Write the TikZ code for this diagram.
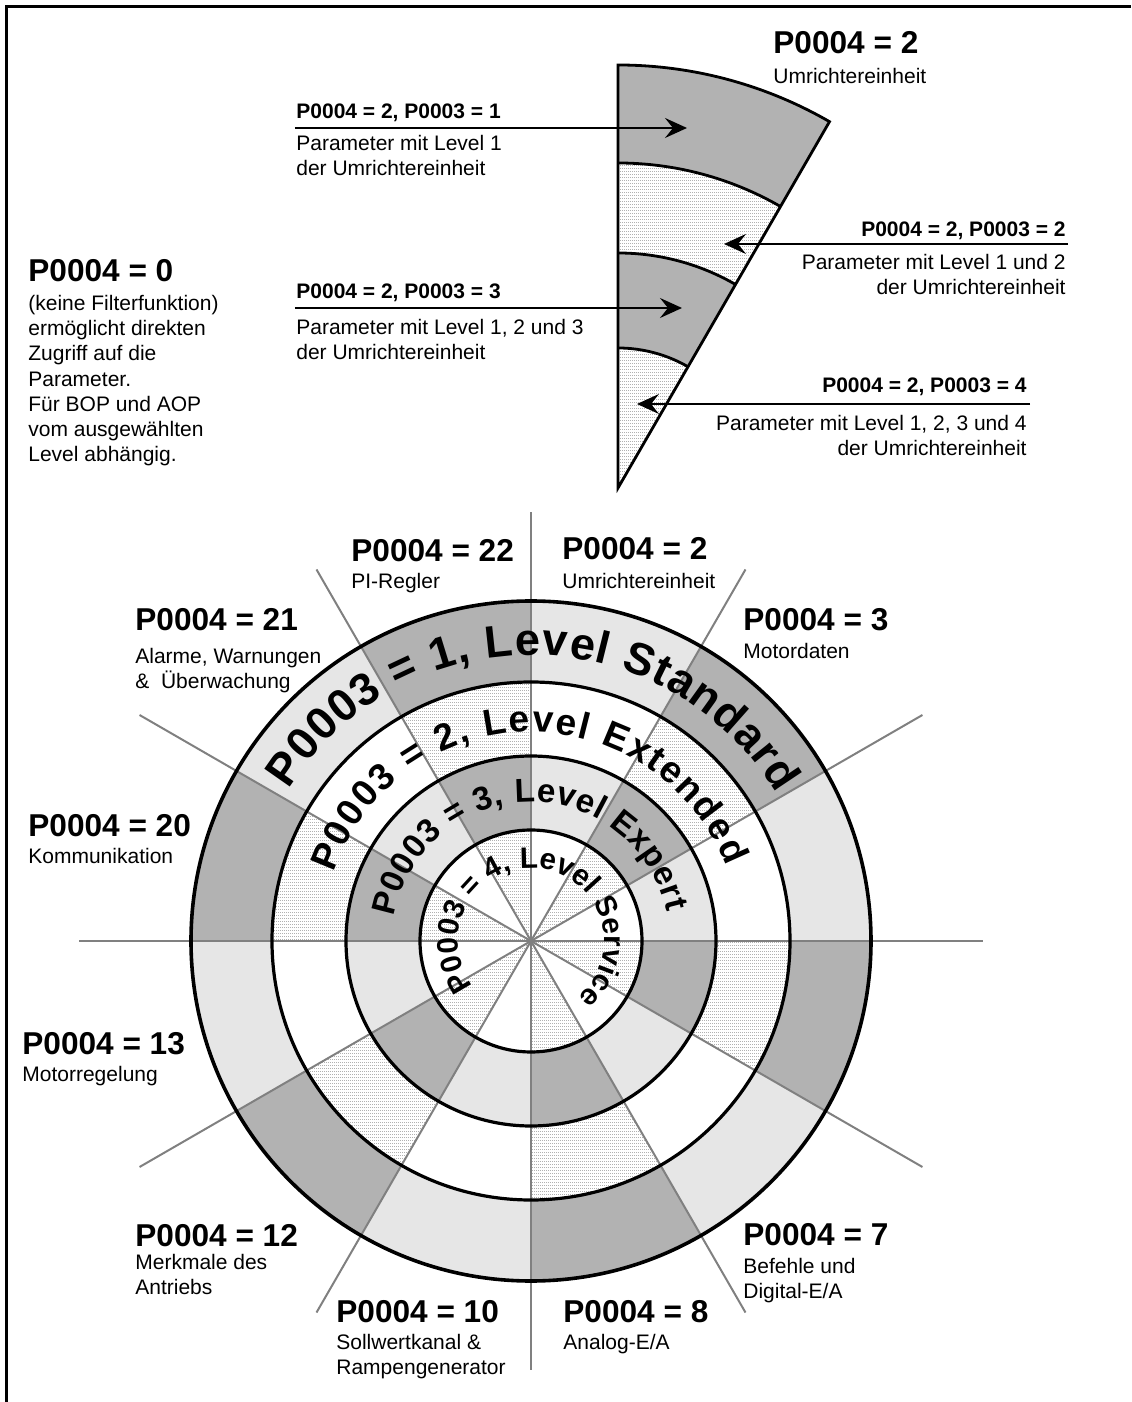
\documentclass[tikz,border=0pt]{standalone}
\usepackage{fontspec}
\setmainfont{Liberation Sans}
\usetikzlibrary{arrows.meta, decorations.text, patterns}
\definecolor{ringdark}{RGB}{178,178,178}
\definecolor{ringlight}{RGB}{230,230,230}
\definecolor{spokegray}{RGB}{128,128,128}
\definecolor{dotgray}{RGB}{70,70,70}

% fein gepunktete Schraffur
\pgfdeclarepatternformonly{hdots}{\pgfqpoint{0pt}{0pt}}{\pgfqpoint{1pt}{1.5pt}}{\pgfqpoint{1pt}{1.5pt}}{%
  \pgfpathrectangle{\pgfqpoint{0pt}{0pt}}{\pgfqpoint{0.5pt}{0.45pt}}\pgfusepath{fill}}

\begin{document}
\begin{tikzpicture}[x=0.5pt, y=0.5pt,
    biglabel/.style={font=\fontsize{15.8}{19}\selectfont\bfseries, inner sep=0pt, anchor=base west},
    smalltitle/.style={font=\fontsize{10.5}{12.6}\selectfont\bfseries, inner sep=0pt},
    desc/.style={font=\fontsize{10.5}{12.65}\selectfont, inner sep=0pt, align=left, anchor=north west},
    descr/.style={desc, align=right, anchor=north east},
    spoke/.style={draw=spokegray, line width=1pt},
    ring/.style={draw=black, line width=1.6pt},
    wedgeline/.style={draw=black, line width=1.4pt},
    pointer/.style={-{Stealth[length=11pt, width=10pt, inset=4pt]}, line width=1pt},
    dotted fill/.style={pattern=hdots, pattern color=dotgray}
  ]
  \useasboundingbox (-531,-461) rectangle (600,941);

  % Rahmen (links und oben)
  \draw[line width=1.1pt] (-524.5,-461) -- (-524.5,934.5) -- (600,934.5);

  \coordinate (hub) at (0,0);

  % Sektoren der vier Ringe
  \foreach \k in {0,...,11} {
    \pgfmathtruncatemacro{\angA}{30*\k}
    \pgfmathtruncatemacro{\angB}{30*\k+30}
    \ifodd\k\relax
      \tikzset{bandA/.style={fill=ringdark}, bandB/.style={dotted fill}}
    \else
      \tikzset{bandA/.style={fill=ringlight}, bandB/.style={fill=white}}
    \fi
    % Level Standard und Level Expert
    \path[bandA] (\angA:340) arc[start angle=\angA, end angle=\angB, radius=340] -- (\angB:259) arc[start angle=\angB, end angle=\angA, radius=259] -- cycle;
    \path[bandA] (\angA:185) arc[start angle=\angA, end angle=\angB, radius=185] -- (\angB:111) arc[start angle=\angB, end angle=\angA, radius=111] -- cycle;
    % Level Extended und Level Service
    \path[bandB] (\angA:259) arc[start angle=\angA, end angle=\angB, radius=259] -- (\angB:185) arc[start angle=\angB, end angle=\angA, radius=185] -- cycle;
    \path[bandB] (hub) -- (\angA:111) arc[start angle=\angA, end angle=\angB, radius=111] -- cycle;
  }

  % Speichen
  \foreach \ang/\len in {0/452, 30/452, 60/429, 90/429, 120/429, 150/452, 180/452, 210/452, 240/429, 270/429, 300/429, 330/452}
    \draw[spoke] (hub) -- (\ang:\len);

  % Kreise
  \foreach \r in {111, 185, 259}
    \draw[ring] (hub) circle[radius=\r];
  \draw[ring, line width=1.8pt] (hub) circle[radius=340];

  % Beschriftung entlang der Ringe
  \path[decorate, decoration={text along path, text align={fit to path},
      text={|\fontsize{22.6}{26}\selectfont\bfseries|P0003 = 1, Level Standard}}]
    (148:286) arc[start angle=148, end angle=31, radius=286];
  \path[decorate, decoration={text along path, text align={fit to path},
      text={|\fontsize{18.6}{22}\selectfont\bfseries|P0003 = 2, Level Extended}}]
    (161:209) arc[start angle=161, end angle=21, radius=209];
  \path[decorate, decoration={text along path, text align={fit to path},
      text={|\fontsize{16.6}{20}\selectfont\bfseries|P0003 = 3, Level Expert}}]
    (170:139) arc[start angle=170, end angle=12, radius=139];
  \path[decorate, decoration={text along path, text align={fit to path},
      text={|\fontsize{14.8}{18}\selectfont\bfseries|P0003 = 4, Level Service}}]
    (218:73) arc[start angle=218, end angle=-45, radius=73];

  % Ausschnitt P0004 = 2 (oben)
  \begin{scope}[shift={(87,453)}]
    \fill[ringdark] (90:423) arc[start angle=90, end angle=60, radius=423] -- (60:325) arc[start angle=60, end angle=90, radius=325] -- cycle;
    \fill[dotted fill] (90:325) arc[start angle=90, end angle=60, radius=325] -- (60:235) arc[start angle=60, end angle=90, radius=235] -- cycle;
    \fill[ringdark] (90:235) arc[start angle=90, end angle=60, radius=235] -- (60:140) arc[start angle=60, end angle=90, radius=140] -- cycle;
    \fill[dotted fill] (0,0) -- (90:140) arc[start angle=90, end angle=60, radius=140] -- cycle;
    \foreach \r in {140, 235, 325}
      \draw[wedgeline] (90:\r) arc[start angle=90, end angle=60, radius=\r];
    \draw[wedgeline, line join=miter] (0,0) -- (90:423) arc[start angle=90, end angle=60, radius=423] -- cycle;
  \end{scope}

  \node[biglabel] (wtitle) at (242,887.7) {P0004 = 2};
  \node[desc] (wdesc) at (242,873.5) {Umrichtereinheit};

  % Zeiger auf die Ausschnitte
  \node[smalltitle, anchor=base west] (lev1) at (-235,822.5) {P0004 = 2, P0003 = 1};
  \node[desc] (lev1d) at (-235,806.5) {Parameter mit Level 1\\der Umrichtereinheit};
  \coordinate (lev1s) at (-236,813);
  \coordinate (lev1t) at (156,813);
  \draw[pointer] (lev1s) -- (lev1t);

  \node[smalltitle, anchor=base east] (lev2) at (535,704.5) {P0004 = 2, P0003 = 2};
  \node[descr] (lev2d) at (535,687.5) {Parameter mit Level 1 und 2\\der Umrichtereinheit};
  \coordinate (lev2s) at (537,697);
  \coordinate (lev2t) at (193,697);
  \draw[pointer] (lev2s) -- (lev2t);

  \node[smalltitle, anchor=base west] (lev3) at (-235,642.5) {P0004 = 2, P0003 = 3};
  \node[desc] (lev3d) at (-235,622.5) {Parameter mit Level 1, 2 und 3\\der Umrichtereinheit};
  \coordinate (lev3s) at (-236,633);
  \coordinate (lev3t) at (151,633);
  \draw[pointer] (lev3s) -- (lev3t);

  \node[smalltitle, anchor=base east] (lev4) at (496,548.5) {P0004 = 2, P0003 = 4};
  \node[descr] (lev4d) at (496,526.5) {Parameter mit Level 1, 2, 3 und 4\\der Umrichtereinheit};
  \coordinate (lev4s) at (499,537);
  \coordinate (lev4t) at (106,537);
  \draw[pointer] (lev4s) -- (lev4t);

  % P0004 = 0
  \node[biglabel] (p0) at (-503,659.7) {P0004 = 0};
  \node[desc] (p0d) at (-503,646.5) {(keine Filterfunktion)\\ermöglicht direkten\\Zugriff auf die\\Parameter.\\Für BOP und AOP\\vom ausgewählten\\Level abhängig.};

  % Bereiche rund um den Kreis
  \node[biglabel] (p22) at (-180,379.7) {P0004 = 22};
  \node[desc] (p22d) at (-180,368.5) {PI-Regler};
  \node[biglabel] (p2) at (31,381.4) {P0004 = 2};
  \node[desc] (p2d) at (31,368.5) {Umrichtereinheit};
  \node[biglabel] (p3) at (212,310.7) {P0004 = 3};
  \node[desc] (p3d) at (212,298.5) {Motordaten};
  \node[biglabel] (p21) at (-396,310.7) {P0004 = 21};
  \node[desc] (p21d) at (-396,293.5) {Alarme, Warnungen\\\&\ \ Überwachung};
  \node[biglabel] (p20) at (-503,104.7) {P0004 = 20};
  \node[desc] (p20d) at (-503,93.5) {Kommunikation};
  \node[biglabel] (p13) at (-509,-113.3) {P0004 = 13};
  \node[desc] (p13d) at (-509,-124.5) {Motorregelung};
  \node[biglabel] (p12) at (-396,-305.3) {P0004 = 12};
  \node[desc] (p12d) at (-396,-312.5) {Merkmale des\\Antriebs};
  \node[biglabel] (p10) at (-195,-381.3) {P0004 = 10};
  \node[desc] (p10d) at (-195,-392.5) {Sollwertkanal \&\\Rampengenerator};
  \node[biglabel] (p8) at (32,-381.3) {P0004 = 8};
  \node[desc] (p8d) at (32,-392.5) {Analog-E/A};
  \node[biglabel] (p7) at (212,-304.3) {P0004 = 7};
  \node[desc] (p7d) at (212,-316.5) {Befehle und\\Digital-E/A};
\end{tikzpicture}
\end{document}
